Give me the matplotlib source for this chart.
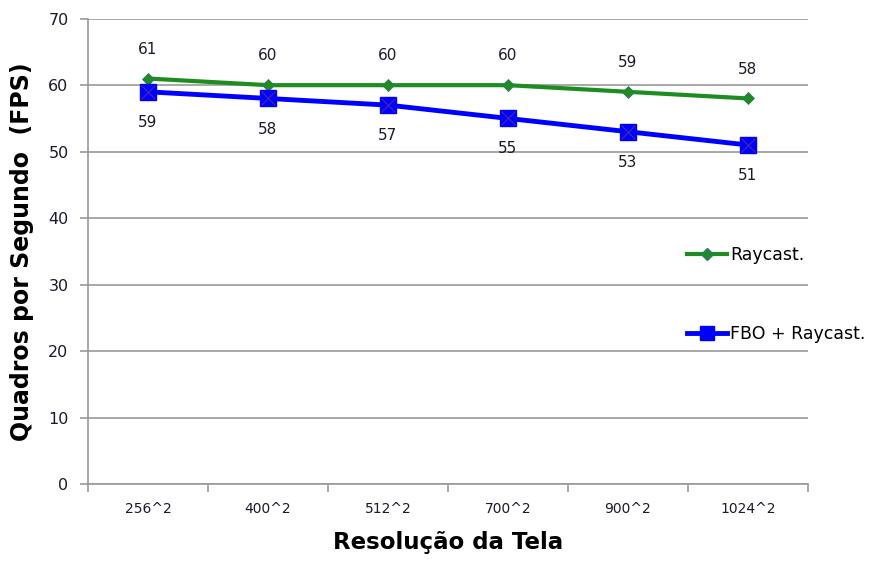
import numpy as np
import matplotlib.pyplot as plt
from matplotlib.lines import Line2D

# Frame rate per screen resolution, two rendering modes
resolutions = ["256^2", "400^2", "512^2", "700^2", "900^2", "1024^2"]
fps_raycast = [61, 60, 60, 60, 59, 58]
fps_fbo = [59, 58, 57, 55, 53, 51]

plt.rcParams["font.family"] = ["DejaVu Sans"]

green = "#1e8c1e"
blue = "#0000ff"
grid_col = "#9a9a9a"
text_col = "#1a1a2a"

fig = plt.figure(figsize=(8.77, 5.63), dpi=100)
ax = fig.add_axes([0.1003, 0.1403, 0.8210, 0.8265])

x = np.arange(len(resolutions))

ax.plot(x, fps_raycast, color=green, linewidth=3, marker="D",
        markersize=6.5, markerfacecolor=green, markeredgecolor="#2f7a6a",
        markeredgewidth=0.6, zorder=3)
ax.plot(x, fps_fbo, color=blue, linewidth=3.5, marker="s",
        markersize=11, markerfacecolor=blue, markeredgecolor=blue, zorder=4)
ax.plot(x, fps_fbo, linestyle="none", marker="x", markersize=10,
        markeredgecolor="#4a2a9a", markeredgewidth=0.8, zorder=5)

# value labels: green above, blue below
for xi, v in zip(x, fps_raycast):
    ax.annotate(str(v), (xi, v), xytext=(0, 21), textcoords="offset points",
                ha="center", va="center", fontsize=11, color=text_col)
for xi, v in zip(x, fps_fbo):
    ax.annotate(str(v), (xi, v), xytext=(0, -22), textcoords="offset points",
                ha="center", va="center", fontsize=11, color=text_col)

ax.set_xlim(-0.5, len(resolutions) - 0.5)
ax.set_ylim(0, 70)
ax.set_yticks(range(0, 71, 10))
ax.set_xticks(x)
ax.set_xticklabels(resolutions, fontsize=10, color=text_col)
ax.set_xticks(np.arange(-0.5, len(resolutions)), minor=True)
ax.tick_params(axis="x", which="major", length=0, pad=13)
ax.tick_params(axis="x", which="minor", length=6, width=1.2, color=grid_col)
ax.tick_params(axis="y", length=6, width=1.2, color=grid_col,
               labelsize=11.5, labelcolor=text_col, pad=8)

ax.grid(axis="y", color=grid_col, linewidth=1.2)
ax.set_axisbelow(True)
for side in ["top", "right"]:
    ax.spines[side].set_visible(False)
for side in ["left", "bottom"]:
    ax.spines[side].set_color(grid_col)
    ax.spines[side].set_linewidth(1.2)

ax.set_xlabel("Resolução da Tela", fontsize=16.5, fontweight="bold",
              labelpad=11)
ax.set_ylabel("Quadros por Segundo  (FPS)", fontsize=17, fontweight="bold",
              labelpad=10)

handles = [
    Line2D([], [], color=green, linewidth=3, marker="D", markersize=6.5,
           markerfacecolor=green, markeredgecolor="#2f7a6a"),
    Line2D([], [], color=blue, linewidth=3.5, marker="s", markersize=10,
           markerfacecolor=blue, markeredgecolor=blue),
]
fig.legend(handles, ["Raycast.", "FBO + Raycast."], loc="upper left",
           bbox_to_anchor=(0.773, 0.578), frameon=False, fontsize=12.5,
           labelspacing=3.5, handlelength=2.3, handletextpad=0.2,
           borderpad=0)

fig.savefig("out.png", dpi=100, facecolor="white")
